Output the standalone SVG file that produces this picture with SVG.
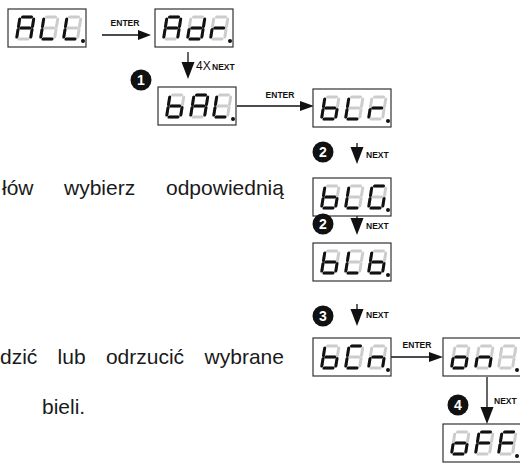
<svg xmlns="http://www.w3.org/2000/svg" width="520" height="464" viewBox="0 0 520 464">
<style>
.box{fill:#fff;stroke:#333;stroke-width:1.2}
.on{stroke:#111;stroke-width:3;stroke-linecap:round;fill:none}
.off{stroke:#cccccc;stroke-width:3;stroke-linecap:round;fill:none}
.dot{fill:#111}
.lbl{font-family:"Liberation Sans",Arial,sans-serif;font-weight:bold;font-size:8.5px;fill:#111}
.body{font-family:"Liberation Sans",Arial,sans-serif;font-size:21px;fill:#1a1a1a}
.num{font-family:"Liberation Sans",Arial,sans-serif;font-weight:bold;font-size:14px;fill:#fff;text-anchor:middle}
.ln{stroke:#111;stroke-width:1.3;fill:none}
.hd{fill:#111}
</style>
<defs>
<path id="sa" d="M2.5 0H11.5"/>
<path id="sb" d="M14 2V9.5"/>
<path id="sc" d="M14 12.5V20"/>
<path id="sd" d="M2.5 22H11.5"/>
<path id="se" d="M0 12.5V20"/>
<path id="sf" d="M0 2V9.5"/>
<path id="sg" d="M2.5 11H11.5"/>
<g id="d8" class="off"><use href="#sa"/><use href="#sb"/><use href="#sc"/><use href="#sd"/><use href="#se"/><use href="#sf"/><use href="#sg"/></g>
<g id="cA" transform="skewX(-9)"><use href="#d8"/><g class="on"><use href="#sa"/><use href="#sb"/><use href="#sc"/><use href="#se"/><use href="#sf"/><use href="#sg"/></g></g>
<g id="cL" transform="skewX(-9)"><use href="#d8"/><g class="on"><use href="#sd"/><use href="#se"/><use href="#sf"/></g></g>
<g id="cd" transform="skewX(-9)"><use href="#d8"/><g class="on"><use href="#sb"/><use href="#sc"/><use href="#sd"/><use href="#se"/><use href="#sg"/></g></g>
<g id="cr" transform="skewX(-9)"><use href="#d8"/><g class="on"><use href="#se"/><use href="#sg"/></g></g>
<g id="cb" transform="skewX(-9)"><use href="#d8"/><g class="on"><use href="#sc"/><use href="#sd"/><use href="#se"/><use href="#sf"/><use href="#sg"/></g></g>
<g id="cG" transform="skewX(-9)"><use href="#d8"/><g class="on"><use href="#sa"/><use href="#sc"/><use href="#sd"/><use href="#se"/><use href="#sf"/></g></g>
<g id="cC" transform="skewX(-9)"><use href="#d8"/><g class="on"><use href="#sa"/><use href="#sd"/><use href="#se"/><use href="#sf"/></g></g>
<g id="cn" transform="skewX(-9)"><use href="#d8"/><g class="on"><use href="#sc"/><use href="#se"/><use href="#sg"/></g></g>
<g id="co" transform="skewX(-9)"><use href="#d8"/><g class="on"><use href="#sc"/><use href="#sd"/><use href="#se"/><use href="#sg"/></g></g>
<g id="cF" transform="skewX(-9)"><use href="#d8"/><g class="on"><use href="#sa"/><use href="#se"/><use href="#sf"/><use href="#sg"/></g></g>
<g id="cX" transform="skewX(-9)"><use href="#d8"/></g>
<rect id="frame" class="box" width="78" height="38"/>
</defs>

<g id="text">
<text class="body" y="195"><tspan x="2">łów</tspan><tspan x="64">wybierz</tspan><tspan x="166">odpowiednią</tspan></text>
<text class="body" y="364"><tspan x="0">dzić</tspan><tspan x="57.6">lub</tspan><tspan x="105.9">odrzucić</tspan><tspan x="204.6">wybrane</tspan></text>
<text class="body" x="42" y="414">bieli.</text>
</g>

<g id="connectors">
<line class="ln" x1="102" y1="35" x2="140" y2="35"/><polygon class="hd" points="151,35 138,30 138,40"/>
<text class="lbl" x="125" y="26" text-anchor="middle">ENTER</text>
<line class="ln" x1="188" y1="52" x2="188" y2="64"/><polygon class="hd" points="188,79 181.5,62 194.5,62"/>
<text x="196" y="70" font-family="Liberation Sans, Arial, sans-serif" font-size="12" fill="#111">4X</text><text class="lbl" x="212" y="70" font-size="9">NEXT</text>
<line class="ln" x1="237" y1="106" x2="302" y2="106"/><polygon class="hd" points="314,106 300,101 300,111"/>
<text class="lbl" x="280" y="98" text-anchor="middle">ENTER</text>
<line class="ln" x1="357" y1="143" x2="357" y2="150"/><polygon class="hd" points="357,164 350.5,147 363.5,147"/>
<text class="lbl" x="366" y="158">NEXT</text>
<line class="ln" x1="357" y1="214" x2="357" y2="221"/><polygon class="hd" points="357,235 350.5,218 363.5,218"/>
<text class="lbl" x="366" y="229">NEXT</text>
<line class="ln" x1="357" y1="304" x2="357" y2="311"/><polygon class="hd" points="357,326 350.5,309 363.5,309"/>
<text class="lbl" x="366" y="318">NEXT</text>
<line class="ln" x1="391" y1="357" x2="431" y2="357"/><polygon class="hd" points="443,357 429,352 429,362"/>
<text class="lbl" x="417" y="348" text-anchor="middle">ENTER</text>
<line class="ln" x1="487" y1="377" x2="487" y2="410"/><polygon class="hd" points="487,424 480.5,407 493.5,407"/>
<text class="lbl" x="494" y="404">NEXT</text>
</g>

<g id="n-ALL"><use href="#frame" x="8" y="9"/><use href="#cA" x="20" y="17"/><use href="#cL" x="44" y="17"/><use href="#cL" x="67" y="17"/><circle class="dot" cx="83" cy="41" r="2"/></g>
<g id="n-Adr"><use href="#frame" x="155" y="9"/><use href="#cA" x="167" y="17"/><use href="#cd" x="191" y="17"/><use href="#cr" x="214" y="17"/><circle class="dot" cx="230" cy="41" r="2"/></g>
<g id="n-bAL"><use href="#frame" x="158" y="87"/><use href="#cb" x="170" y="95"/><use href="#cA" x="194" y="95"/><use href="#cL" x="217" y="95"/><circle class="dot" cx="233" cy="119" r="2"/></g>
<g id="n-bLr"><use href="#frame" x="313" y="89"/><use href="#cb" x="325" y="97"/><use href="#cL" x="349" y="97"/><use href="#cr" x="372" y="97"/><circle class="dot" cx="388" cy="121" r="2"/></g>
<g id="n-bLG"><use href="#frame" x="313" y="178"/><use href="#cb" x="325" y="186"/><use href="#cL" x="349" y="186"/><use href="#cG" x="372" y="186"/><circle class="dot" cx="388" cy="210" r="2"/></g>
<g id="n-bLb"><use href="#frame" x="313" y="243"/><use href="#cb" x="325" y="251"/><use href="#cL" x="349" y="251"/><use href="#cb" x="372" y="251"/><circle class="dot" cx="388" cy="275" r="2"/></g>
<g id="n-bCn"><use href="#frame" x="313" y="338"/><use href="#cb" x="325" y="346"/><use href="#cC" x="349" y="346"/><use href="#cn" x="372" y="346"/><circle class="dot" cx="388" cy="370" r="2"/></g>
<g id="n-on"><use href="#frame" x="443" y="338"/><use href="#co" x="455" y="346"/><use href="#cn" x="479" y="346"/><use href="#cX" x="502" y="346"/><circle class="dot" cx="517" cy="370" r="2"/></g>
<g id="n-oFF"><use href="#frame" x="443" y="424"/><use href="#co" x="455" y="432"/><use href="#cF" x="479" y="432"/><use href="#cF" x="502" y="432"/><circle class="dot" cx="517" cy="456" r="2"/></g>

<g id="c1"><circle cx="141" cy="80" r="10.5" fill="#111"/><text class="num" x="141" y="85">1</text></g>
<g id="c2a"><circle cx="323" cy="152" r="10.5" fill="#111"/><text class="num" x="323" y="157">2</text></g>
<g id="c2b"><circle cx="323" cy="224" r="10.5" fill="#111"/><text class="num" x="323" y="229">2</text></g>
<g id="c3"><circle cx="323" cy="316" r="10.5" fill="#111"/><text class="num" x="323" y="321">3</text></g>
<g id="c4"><circle cx="458" cy="405" r="10.5" fill="#111"/><text class="num" x="458" y="410">4</text></g>
</svg>
